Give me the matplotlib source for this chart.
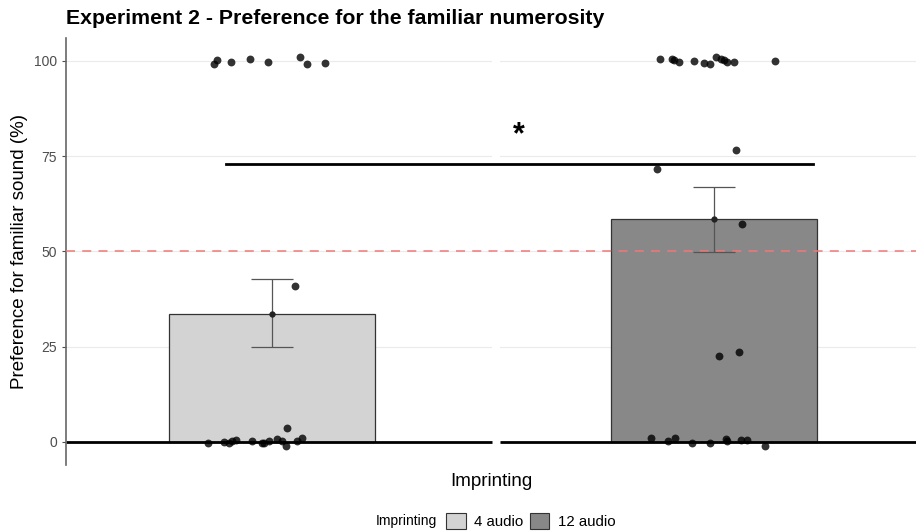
import numpy as np
import matplotlib
matplotlib.use("Agg")
import matplotlib.pyplot as plt
from matplotlib.patches import Patch

plt.rcParams['font.family'] = ['Liberation Sans', 'DejaVu Sans']

# summary per group
groups = ['4 audio', '12 audio']
means = [33.7, 58.4]
ci_low = [24.9, 49.9]
ci_high = [42.7, 67.0]
fills = ['#d3d3d3', '#888888']

# individual subjects (jitter offset, value)
g1_jitter = [-0.131, -0.124, -0.093, -0.050, -0.009, 0.063, 0.079, 0.120,
             0.052, 0.034,
             -0.145, -0.109, -0.097, -0.090, -0.081, -0.045, -0.023, -0.018,
             -0.007, 0.011, 0.023, 0.032, 0.057, 0.068]
g1_values = [99.2, 100.3, 99.7, 100.5, 99.7, 101.0, 99.2, 99.5,
             40.9, 3.7,
             -0.3, 0.0, -0.3, 0.3, 0.5, 0.3, -0.3, -0.2,
             0.3, 0.8, 0.3, -1.0, 0.3, 1.0]
g2_jitter = [-0.122, -0.095, -0.090, -0.079, -0.045, -0.023, -0.009, 0.005,
             0.015, 0.023, 0.030, 0.045, 0.138,
             0.050, -0.129, 0.063, 0.011, 0.057,
             -0.143, -0.104, -0.088, -0.050, -0.009, 0.027, 0.030, 0.061,
             0.075, 0.115]
g2_values = [100.5, 100.5, 100.3, 99.7, 99.9, 99.4, 99.2, 101.1,
             100.5, 100.1, 99.7, 99.6, 99.9,
             76.6, 71.7, 57.2, 22.6, 23.6,
             1.0, 0.3, 1.0, -0.3, -0.2, 0.8, 0.3, 0.5,
             0.5, -1.0]

sig_level = 73
chance = 50

fig = plt.figure(figsize=(9.16, 5.31), dpi=100)
ax = fig.add_axes([66 / 916, 66 / 531, 850 / 916, 427 / 531])

x = np.array([1, 2])
xlim = (0.534, 2.457)
gap = (1.498, 1.516)  # space between the two facet panels

ax.set_xlim(*xlim)
ax.set_ylim(-6.04, 106.0)

# grid
for y in [0, 25, 50, 75, 100]:
    ax.axhline(y, color='#ebebeb', lw=0.8, zorder=0)
ax.axvspan(gap[0], gap[1], color='white', lw=0, zorder=1.5)

# bars + CI
ax.bar(x, means, width=0.466, color=fills, edgecolor='#333333', lw=0.9, zorder=2)
ax.hlines([0, 0], [xlim[0], gap[1]], [gap[0], xlim[1]], color='black', lw=2, zorder=2.5)
ax.axhline(chance, color='#f07878', lw=1.3, ls=(0, (5, 4)), alpha=0.85, zorder=2.6)
means_arr = np.array(means)
yerr = [means_arr - np.array(ci_low), np.array(ci_high) - means_arr]
ax.errorbar(x, means, yerr=yerr, fmt='o', color='#222222', ms=3.5,
            ecolor='#555555', elinewidth=0.9, capsize=15, capthick=0.9, zorder=3)

# points
ax.scatter(1 + np.array(g1_jitter), g1_values, s=32, color='black', alpha=0.8,
           lw=0, zorder=4)
ax.scatter(2 + np.array(g2_jitter), g2_values, s=32, color='black', alpha=0.8,
           lw=0, zorder=4)

# significance
ax.plot([0.896, 2.224], [sig_level, sig_level], color='black', lw=2, zorder=5)
ax.text(1.559, 80.5, '*', fontsize=22, fontweight='bold', ha='center', va='center',
        zorder=5)

# axes styling
for s in ['top', 'right', 'bottom']:
    ax.spines[s].set_visible(False)
ax.spines['left'].set_color('#666666')
ax.spines['left'].set_linewidth(1.2)
ax.set_xticks([])
ax.set_yticks([0, 25, 50, 75, 100])
ax.tick_params(axis='y', colors='#4d4d4d', labelsize=10, length=3, width=0.8)
ax.set_ylabel('Preference for familiar sound (%)', fontsize=13.5, labelpad=4)
ax.set_xlabel('Imprinting', fontsize=13.5, labelpad=6)

fig.text(66 / 916, 1 - 18 / 531, 'Experiment 2 - Preference for the familiar numerosity',
         fontsize=15.3, fontweight='bold', va='center', ha='left')

# legend
fig.text(437 / 916, 1 - 521 / 531, 'Imprinting', fontsize=10, ha='right', va='center')
handles = [Patch(facecolor=c, edgecolor='#333333', lw=0.8) for c in fills]
fig.legend(handles, groups, ncol=2, loc='center left',
           bbox_to_anchor=(446 / 916, 1 - 521 / 531), frameon=False, fontsize=10.8,
           handlelength=1.3, handleheight=1.2, handletextpad=0.6, columnspacing=0.4,
           borderpad=0, borderaxespad=0)

plt.savefig('out.png', dpi=100)
